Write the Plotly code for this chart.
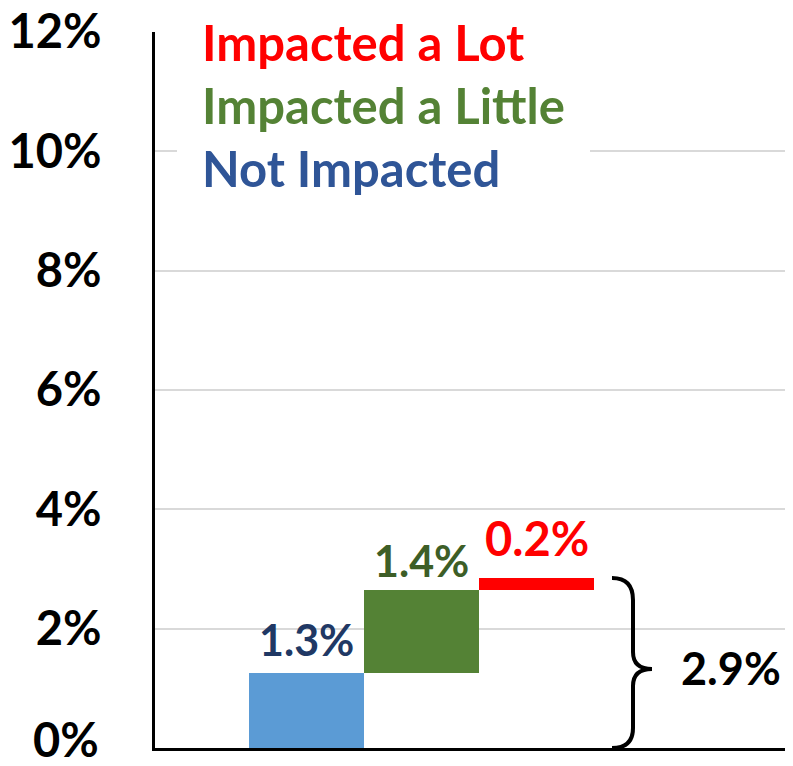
import plotly.graph_objects as go

# data
categories = ["Not Impacted", "Impacted a Little", "Impacted a Lot"]
values = [1.26, 1.39, 0.20]
value_labels = ["1.3%", "1.4%", "0.2%"]
total_label = "2.9%"
tick_values = [0, 2, 4, 6, 8, 10, 12]
tick_labels = ["0%", "2%", "4%", "6%", "8%", "10%", "12%"]
legend_items = ["Impacted a Lot", "Impacted a Little", "Not Impacted"]

bar_colors = ["#5b9bd5", "#548235", "#ff0000"]
label_colors = ["#203864", "#3d5e27", "#ff0000"]
label_sizes = [43, 43, 47]
label_shifts = [6, 2, 10]
legend_colors = ["#ff0000", "#548235", "#2f5597"]

FONT = "Lato"
TICK_FONT = dict(family=FONT, size=47, color="black", weight="bold")

# the page body has an 8px margin; keep the figure inside the window
W, H = 777, 750
ML, MT, MB = 147, 24, 10
PLOT_W = W - ML
UNIT = 115  # pixels per category

# waterfall bases
bases = []
running = 0
for v in values:
    bases.append(running)
    running += v
total = running

fig = go.Figure()

fig.add_trace(go.Bar(
    x=categories,
    y=values,
    base=bases,
    width=1,
    marker=dict(color=bar_colors, line=dict(width=0)),
    showlegend=False,
))

annotations = []
for cat, b, v, lab, col, sz, sh in zip(categories, bases, values, value_labels,
                                        label_colors, label_sizes, label_shifts):
    annotations.append(dict(
        x=cat, y=b + v, xref="x", yref="y",
        text=lab, showarrow=False, yanchor="bottom", yshift=sh,
        font=dict(family=FONT, size=sz, color=col, weight="bold"),
    ))

# legend text block
for i, (name, col) in enumerate(zip(legend_items, legend_colors)):
    annotations.append(dict(
        x=45 / PLOT_W, y=0.986 - i * 0.088, xref="paper", yref="paper",
        text=name, showarrow=False, xanchor="left", yanchor="middle",
        font=dict(family=FONT, size=49, color=col, weight="bold"),
    ))


# brace helpers: window pixel x -> paper x, window pixel y -> data y
def bx(px):
    return (px - 155) / PLOT_W


def by(py):
    return (748 - py) / 59.67


# bottom tick label drawn as an annotation, nudged up so it is not clipped
annotations.append(dict(
    x=bx(101), y=tick_values[0], xref="paper", yref="y",
    text=tick_labels[0], showarrow=False, xanchor="right", yanchor="middle",
    yshift=9, font=TICK_FONT,
))

brace = (
    f"M {bx(612)},{total} "
    f"Q {bx(633)},{total} {bx(633)},{by(600)} "
    f"L {bx(633)},{by(652)} "
    f"Q {bx(633)},{by(669)} {bx(652)},{by(669)} "
    f"Q {bx(633)},{by(669)} {bx(633)},{by(686)} "
    f"L {bx(633)},{by(728)} "
    f"Q {bx(633)},0 {bx(612)},0"
)

annotations.append(dict(
    x=bx(679), y=by(668), xref="paper", yref="y",
    text=total_label, showarrow=False, xanchor="left", yanchor="middle",
    font=dict(family=FONT, size=45, color="black", weight="bold"),
))

shapes = [
    # white box behind the legend text
    dict(type="rect", xref="paper", yref="paper",
         x0=bx(177), x1=bx(590), y0=0.78, y1=1.03,
         fillcolor="white", line=dict(width=0), layer="above"),
    dict(type="path", xref="paper", yref="y", path=brace,
         line=dict(color="black", width=4), layer="above"),
]

x_left = -1.32
fig.update_layout(
    width=W,
    height=H,
    margin=dict(l=ML, r=0, t=MT, b=MB, autoexpand=False),
    plot_bgcolor="white",
    paper_bgcolor="white",
    bargap=0,
    xaxis=dict(
        type="category",
        range=[x_left, x_left + PLOT_W / UNIT],
        showticklabels=False,
        showgrid=False,
        showline=True,
        linecolor="black",
        linewidth=3,
        ticks="",
        automargin=False,
    ),
    yaxis=dict(
        range=[0, 12],
        tickvals=tick_values[1:],
        ticktext=tick_labels[1:],
        tickfont=TICK_FONT,
        ticks="",
        ticklabelstandoff=41,
        ticklabeloverflow="allow",
        showgrid=True,
        gridcolor="#d9d9d9",
        gridwidth=2,
        zeroline=False,
        showline=True,
        linecolor="black",
        linewidth=3,
        automargin=False,
    ),
    annotations=annotations,
    shapes=shapes,
)

fig.write_html("out.html")
